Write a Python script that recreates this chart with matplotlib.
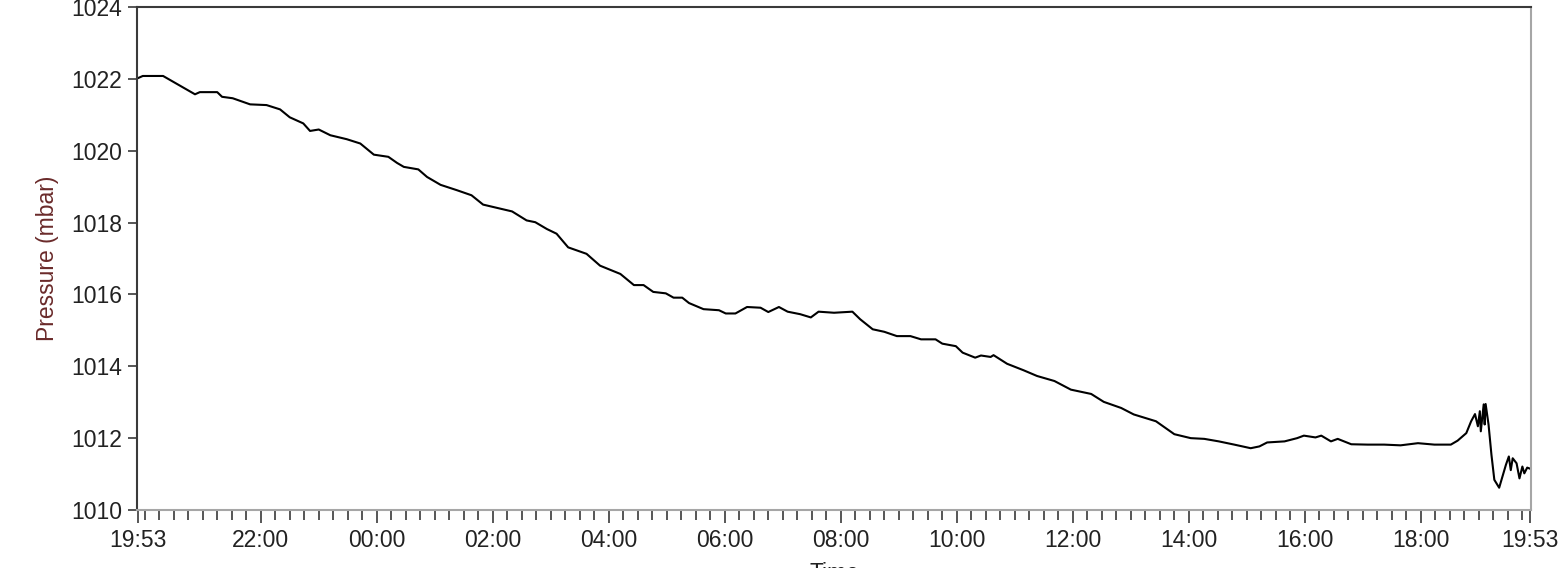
"""Barometric pressure over a 24 hour logging window."""

from __future__ import annotations

from pathlib import Path

import matplotlib

matplotlib.use("Agg")
import matplotlib.pyplot as plt
from matplotlib.ticker import FixedLocator

OUTPUT_PATH = Path("out.png")

# Logging started at 19:53 and ran for exactly one day.
START_CLOCK = "19:53"
SPAN_MINUTES = 24 * 60

# Minutes since the start of the log.
elapsed_minutes = [
    0, 5, 26, 59, 64, 82, 87, 98, 116, 133,
    147, 157, 171, 178, 187, 199, 216, 230, 244, 259,
    268, 275, 290, 299, 313, 330, 345, 357, 371, 387,
    402, 411, 423, 433, 445, 464, 478, 499, 513, 523,
    533, 546, 554, 563, 570, 585, 601, 608, 618, 630,
    644, 652, 663, 672, 685, 696, 704, 720, 739, 747,
    760, 772, 785, 799, 810, 825, 832, 846, 853, 866,
    872, 882, 885, 899, 916, 930, 948, 965, 986, 999,
    1017, 1030, 1053, 1072, 1089, 1103, 1118, 1134, 1151, 1160,
    1168, 1186, 1199, 1206, 1218, 1224, 1234, 1241, 1255, 1272,
    1289, 1306, 1324, 1341, 1358, 1365, 1374, 1379, 1383, 1386,
    1388, 1389, 1392, 1393, 1394, 1397, 1400, 1403, 1408, 1412,
    1415, 1418, 1420, 1422, 1426, 1429, 1432, 1434, 1437, 1440,
]

pressure_mbar = [
    1022.02, 1022.08, 1022.08, 1021.57, 1021.63, 1021.63, 1021.50, 1021.46, 1021.29, 1021.27,
    1021.15, 1020.93, 1020.76, 1020.55, 1020.59, 1020.43, 1020.32, 1020.20, 1019.89, 1019.83,
    1019.66, 1019.55, 1019.48, 1019.27, 1019.05, 1018.90, 1018.76, 1018.50, 1018.41, 1018.31,
    1018.06, 1018.01, 1017.82, 1017.69, 1017.31, 1017.13, 1016.80, 1016.57, 1016.26, 1016.26,
    1016.07, 1016.03, 1015.91, 1015.91, 1015.76, 1015.59, 1015.56, 1015.47, 1015.47, 1015.65,
    1015.63, 1015.51, 1015.65, 1015.52, 1015.45, 1015.36, 1015.52, 1015.49, 1015.52, 1015.31,
    1015.03, 1014.96, 1014.84, 1014.84, 1014.75, 1014.75, 1014.63, 1014.56, 1014.38, 1014.24,
    1014.30, 1014.26, 1014.31, 1014.07, 1013.89, 1013.73, 1013.59, 1013.35, 1013.23, 1013.01,
    1012.84, 1012.66, 1012.47, 1012.11, 1012.00, 1011.98, 1011.91, 1011.82, 1011.72, 1011.77,
    1011.88, 1011.91, 1012.00, 1012.07, 1012.02, 1012.07, 1011.91, 1011.98, 1011.83, 1011.82,
    1011.82, 1011.80, 1011.86, 1011.82, 1011.82, 1011.93, 1012.14, 1012.47, 1012.67, 1012.33,
    1012.75, 1012.19, 1012.94, 1012.38, 1012.95, 1012.38, 1011.54, 1010.84, 1010.62, 1010.98,
    1011.26, 1011.49, 1011.11, 1011.44, 1011.30, 1010.88, 1011.21, 1011.02, 1011.18, 1011.15,
]

pressure_ticks = [1010, 1012, 1014, 1016, 1018, 1020, 1022, 1024]

DARK = "#3a3a3a"
LIGHT = "#a6a6a6"
TEXT = "#222222"
LABEL = "#6a2a2a"
FONT_SIZE = 16.5


def _clock_to_minutes(clock: str) -> int:
    hours, minutes = clock.split(":")
    return int(hours) * 60 + int(minutes)


def _clock_label(elapsed: float) -> str:
    total = (_clock_to_minutes(START_CLOCK) + int(round(elapsed))) % (24 * 60)
    return f"{total // 60:02d}:{total % 60:02d}"


def _time_ticks() -> tuple[list[float], list[float]]:
    start = _clock_to_minutes(START_CLOCK)
    first_hour = 120 - start % 120  # next even hour after the start
    # even hours too close to the end labels are left unlabelled
    majors = [0.0]
    majors.extend(
        float(m)
        for m in range(first_hour, SPAN_MINUTES, 120)
        if 60 <= m <= SPAN_MINUTES - 60
    )
    majors.append(float(SPAN_MINUTES))
    first_quarter = 15 - start % 15
    minors = [
        float(m)
        for m in range(first_quarter, SPAN_MINUTES, 15)
        if float(m) not in majors
    ]
    return majors, minors


def save_figure(path: Path) -> Path:
    plt.rcParams["font.family"] = ["Liberation Sans", "DejaVu Sans"]
    fig = plt.figure(figsize=(15.62, 5.68), dpi=100)
    ax = fig.add_axes((0.0877, 0.1021, 0.8925, 0.8856))

    ax.plot(elapsed_minutes, pressure_mbar, color="black", linewidth=1.5)

    ax.set_xlim(-1, SPAN_MINUTES + 1)
    ax.set_ylim(pressure_ticks[0], pressure_ticks[-1])

    majors, minors = _time_ticks()
    ax.xaxis.set_major_locator(FixedLocator(majors))
    ax.xaxis.set_minor_locator(FixedLocator(minors))
    ax.set_xticklabels([_clock_label(m) for m in majors])
    ax.set_yticks(pressure_ticks)
    ax.set_yticklabels([str(v) for v in pressure_ticks])

    ax.tick_params(axis="x", which="major", length=9.5, width=1.2,
                   color=DARK, pad=4, labelsize=FONT_SIZE, labelcolor=TEXT)
    ax.tick_params(axis="x", which="minor", length=7, width=1.2, color=DARK)
    ax.tick_params(axis="y", which="major", length=6.5, width=1.2,
                   color=DARK, pad=4, labelsize=FONT_SIZE, labelcolor=TEXT)

    for side, colour in (("left", DARK), ("top", DARK),
                         ("right", LIGHT), ("bottom", LIGHT)):
        ax.spines[side].set_color(colour)
        ax.spines[side].set_linewidth(1.5)

    # the reference crops the axis title at the bottom edge
    ax.set_ylabel("Pressure (mbar)", fontsize=FONT_SIZE, color=LABEL)
    ax.yaxis.set_label_coords(-0.056, 0.5)
    ax.set_xlabel("Time", fontsize=FONT_SIZE, color=TEXT, va="top")
    ax.xaxis.set_label_coords(0.5, -0.103)

    fig.savefig(path, dpi=100)
    plt.close(fig)
    return path


def main() -> None:
    path = save_figure(OUTPUT_PATH)
    print(f"Wrote figure: {path}")


if __name__ == "__main__":
    main()
